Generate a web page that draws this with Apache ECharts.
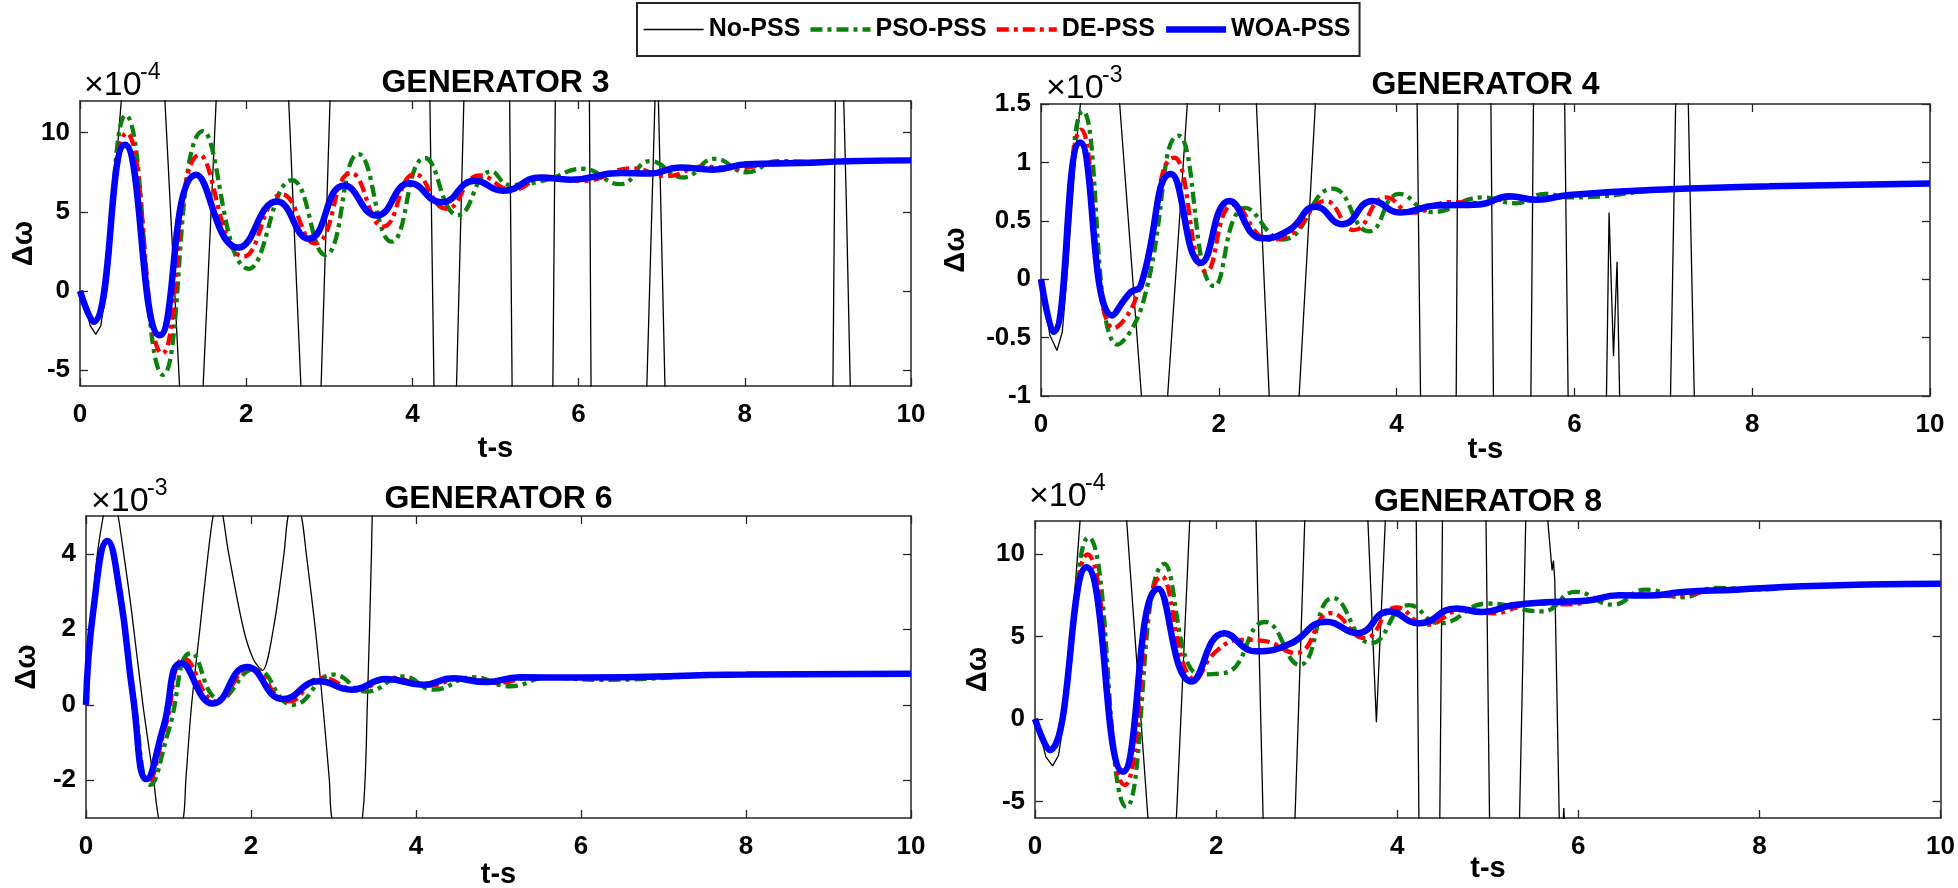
<!DOCTYPE html>
<html><head><meta charset="utf-8">
<script src="https://cdn.jsdelivr.net/npm/echarts@6/dist/echarts.min.js"></script>
<style>html,body{margin:0;padding:0;background:#fff}#c{width:1958px;height:888px}</style>
</head><body><div id="c"></div>
<script>
// ---------- DATA ----------
const seriesNames = ['No-PSS', 'PSO-PSS', 'DE-PSS', 'WOA-PSS'];
const panelTitles = ['GENERATOR 3', 'GENERATOR 4', 'GENERATOR 6', 'GENERATOR 8'];
const panelExponents = ['-4', '-3', '-3', '-4'];
const xTicks = [0, 2, 4, 6, 8, 10];
const g3YTicks = [-5, 0, 5, 10];
const g4YTicks = [-1, -0.5, 0, 0.5, 1, 1.5];
const g6YTicks = [-2, 0, 2, 4];
const g8YTicks = [-5, 0, 5, 10];

// Generator 3 (x1e-4)
const g3TimeNo = [0,0.06,0.12,0.19,0.25,0.3,0.35,0.4,0.45,0.5,0.76,1.02,1.2,1.34,1.48,1.64,2.08,2.51,2.66,2.78,2.9,3.01,3.6,4.21,4.26,4.4,4.53,4.62,4.9,5.17,5.2,5.45,5.69,5.72,5.92,6.13,6.15,6.5,6.82,6.92,6.94,6.96,7.0,7.04,8.0,9.06,9.09,9.14,9.19,9.22,9.27,9.6,10];
const g3No     = [0,-0.7,-2.15,-2.74,-2.2,-0.5,2.5,5.8,9.0,12.2,60,12.2,-6.2,-40,-6.2,12.2,60,12.2,-6.2,-40,-6.2,12.2,60,12.2,-6.2,-40,-6.2,12.2,60,12.2,-6.2,-40,-6.2,12.2,60,12.2,-6.2,-40,-6.2,12.2,20,12.2,3,-6.2,-60,-6.2,12.2,20,12.2,6,-6.2,-60,-80];
const g3TimePso = [0,0.17,0.55,1.0,1.48,2.03,2.55,2.95,3.35,3.75,4.15,4.55,4.95,5.17,5.6,6.05,6.5,6.86,7.26,7.64,8.02,8.4,9.0,10];
const g3Pso     = [0,-2.0,11.1,-5.3,10.1,1.4,7.0,2.28,8.65,3.12,8.4,4.8,7.55,6.7,7.0,7.72,6.75,8.2,7.17,8.35,7.5,8.2,8.15,8.25];
const g3TimeDe = [0,0.16,0.56,0.99,1.44,1.97,2.43,2.83,3.26,3.65,4.03,4.41,4.81,5.2,5.6,6.05,6.65,7.05,7.5,7.9,8.4,9.0,10];
const g3De     = [0,-2.0,9.98,-3.95,8.6,2.17,6.1,3.0,7.45,4.07,7.38,5.19,7.3,6.4,7.2,6.95,7.75,7.25,7.85,7.75,8.1,8.15,8.25];
const g3TimeWoa = [0,0.16,0.54,0.96,1.40,1.905,2.37,2.75,3.18,3.57,3.97,4.35,4.75,5.09,5.54,5.9,6.5,6.86,7.22,7.62,8.02,8.66,9.23,10];
const g3Woa     = [0,-1.94,9.24,-2.8,7.34,2.74,5.65,3.3,6.67,4.77,6.8,5.6,6.96,6.33,7.17,7.03,7.45,7.42,7.8,7.66,8.0,8.08,8.19,8.25];

// Generator 4 (x1e-3)
const g4TimeNo = [0,0.05,0.1,0.18,0.24,0.3,0.36,0.41,0.45,0.66,0.88,1.135,1.28,1.42,1.65,2.03,2.42,2.57,2.74,2.9,3.09,3.66,4.23,4.27,4.47,4.67,4.69,4.88,5.06,5.09,5.3,5.51,5.54,5.72,5.89,5.93,6.15,6.36,6.39,6.44,6.48,6.51,6.8,7.08,7.14,7.21,7.28,7.31,7.35,8.5,10];
const g4No     = [0,-0.25,-0.48,-0.61,-0.45,0.1,0.75,1.25,1.55,6,1.55,-1.05,-5,-1.05,1.55,6,1.55,-1.05,-5,-1.05,1.55,6,1.55,-1.05,-5,-1.05,1.55,6,1.55,-1.05,-5,-1.05,1.55,6,1.55,-1.05,-5,-1.05,0.57,-0.66,0.15,-1.05,-5,-1.05,1.55,3,1.55,0.41,-1.05,-6,-8];
const g4TimePso = [0,0.14,0.47,0.86,1.14,1.55,1.95,2.3,2.72,3.28,3.69,4.03,4.4,4.97,5.34,5.67,5.97,7.07,8.19,10];
const g4Pso     = [0,-0.46,1.44,-0.56,-0.22,1.23,-0.06,0.61,0.34,0.775,0.41,0.73,0.575,0.70,0.65,0.73,0.70,0.77,0.795,0.82];
const g4TimeDe = [0,0.14,0.45,0.82,1.07,1.5,1.86,2.17,2.57,2.8,3.2,3.52,3.88,4.18,4.6,5.0,5.3,5.6,6.0,7.07,8.19,10];
const g4De     = [0,-0.45,1.28,-0.42,-0.16,1.04,0.065,0.64,0.34,0.38,0.67,0.42,0.70,0.57,0.66,0.65,0.70,0.68,0.72,0.77,0.795,0.82];
const g4TimeWoa = [0,0.14,0.44,0.8,1.01,1.12,1.46,1.8,2.12,2.49,2.79,3.09,3.39,3.73,4.04,4.44,4.93,5.27,5.57,5.94,7.07,8.19,10];
const g4Woa     = [0,-0.45,1.17,-0.31,-0.11,-0.06,0.9,0.14,0.67,0.35,0.42,0.62,0.47,0.67,0.57,0.63,0.64,0.71,0.68,0.72,0.77,0.795,0.82];

// Generator 6 (x1e-3)
const g6TimeNo = [0,0.05,0.1,0.15,0.21,0.3,0.39,0.47,0.55,0.69,0.82,0.88,1.03,1.18,1.21,1.28,1.38,1.48,1.54,1.6,1.66,1.73,1.91,2.03,2.14,2.27,2.4,2.45,2.53,2.61,2.67,2.78,2.87,2.95,2.98,3.17,3.35,3.41,3.46,3.47,3.6,10];
const g6No     = [0,1.8,3.2,4.2,5.0,6.0,5.0,3.8,2.52,0,-2,-3,-4.2,-3,-2,0,2,4,5,5.6,5,4,2,1.2,0.91,2,4,5,5.4,5,4,2,0,-2,-3,-4.5,-3,0,4,5,12,30];
const g6TimePso = [0,0.09,0.26,0.41,0.58,0.78,1.0,1.28,1.62,2.05,2.51,3.0,3.4,3.85,4.21,4.69,5.14,5.6,6.2,8.0,10];
const g6Pso     = [0,2.52,4.34,2.97,0.2,-2.12,-0.7,1.37,0.15,0.95,0.0,0.8,0.35,0.75,0.4,0.73,0.49,0.72,0.66,0.80,0.82];
const g6TimeDe = [0,0.09,0.26,0.41,0.57,0.755,0.96,1.2,1.58,1.99,2.45,2.86,3.28,3.7,4.15,4.55,5.0,5.4,6.0,8.0,10];
const g6De     = [0,2.52,4.34,2.97,0.22,-2.04,-0.6,1.21,0.09,0.97,0.09,0.71,0.4,0.71,0.5,0.7,0.58,0.72,0.72,0.80,0.82];
const g6TimeWoa = [0,0.09,0.26,0.41,0.57,0.735,0.94,1.16,1.54,1.95,2.39,2.82,3.22,3.64,4.09,4.45,4.85,5.26,6.0,8.0,10];
const g6Woa     = [0,2.52,4.34,2.97,0.22,-1.97,-0.58,1.1,0.03,1.0,0.15,0.62,0.4,0.68,0.53,0.70,0.60,0.73,0.72,0.80,0.82];

// Generator 8 (x1e-4)
const g8TimeNo = [0,0.06,0.12,0.195,0.26,0.31,0.36,0.41,0.46,0.5,0.76,1.01,1.25,1.4,1.56,1.71,2.08,2.44,2.52,2.7,2.87,2.98,3.33,3.675,3.77,3.87,4.04,4.21,4.24,4.35,4.47,4.5,4.74,4.98,5.02,5.2,5.35,5.42,5.54,5.66,5.71,5.725,5.74,5.79,5.815,5.84,5.86,7.5,10];
const g8No     = [0,-1.0,-2.3,-2.84,-2.2,-0.4,2.5,5.8,9.2,12.2,60,12.2,-6.2,-40,-6.2,12.2,60,12.2,-6.2,-40,-6.2,12.2,40,12.2,-0.2,12.2,40,12.2,-6.2,-40,-6.2,12.2,60,12.2,-6.2,-40,-6.2,12.2,40,12.2,9.0,9.6,8.4,-6.2,-8,-5.4,-8,-60,-80];
const g8TimePso = [0,0.17,0.59,1.01,1.43,1.82,2.1,2.54,2.92,3.29,3.71,4.13,4.47,5.0,5.6,5.97,6.38,6.74,7.15,7.52,8.0,8.5,9.2,10];
const g8Pso     = [0,-1.95,11.0,-5.33,9.4,2.7,2.8,5.88,3.28,7.33,4.6,6.9,5.8,7.0,6.52,7.7,6.93,7.84,7.38,7.94,7.85,8.05,8.15,8.2];
const g8TimeDe = [0,0.16,0.58,0.99,1.4,1.77,2.0,2.3,2.52,2.88,3.27,3.64,3.99,4.32,4.72,5.05,5.5,5.9,6.3,6.65,7.05,7.5,8.47,9.2,10];
const g8De     = [0,-1.9,9.97,-4.0,8.65,2.4,4.1,4.8,4.74,4.0,6.42,4.9,6.77,5.7,6.6,6.4,7.0,6.95,7.4,7.55,7.45,7.8,8.04,8.15,8.2];
const g8TimeWoa = [0,0.16,0.57,0.97,1.36,1.73,2.09,2.44,2.81,3.22,3.56,3.91,4.24,4.65,4.94,5.27,5.71,6.08,6.45,6.78,7.15,7.74,8.47,9.2,10];
const g8Woa     = [0,-1.88,9.2,-3.2,7.9,2.27,5.2,4.1,4.54,5.9,5.2,6.52,5.8,6.7,6.48,6.89,7.09,7.17,7.5,7.48,7.7,7.84,8.04,8.15,8.2];

// ---------- LAYOUT / STYLE ----------
const FONT = '"Liberation Sans", Arial, Helvetica, sans-serif';
const AX = '#262626';
const zip = (t, v) => t.map((x, i) => [x, v[i]]);

const panels = [
  { grid:{left:80, top:101, width:831, height:285}, yMin:-6, yMax:12, yTicks:g3YTicks,
    data:[zip(g3TimeNo,g3No), zip(g3TimePso,g3Pso), zip(g3TimeDe,g3De), zip(g3TimeWoa,g3Woa)], noSmooth:false,
    titleY:83, expX:84, expY:86, yLabX:24, xLabY:449 },
  { grid:{left:1041, top:104, width:889, height:292}, yMin:-1, yMax:1.5, yTicks:g4YTicks,
    data:[zip(g4TimeNo,g4No), zip(g4TimePso,g4Pso), zip(g4TimeDe,g4De), zip(g4TimeWoa,g4Woa)], noSmooth:false,
    titleY:85, expX:1046, expY:89, yLabX:956, xLabY:450 },
  { grid:{left:86, top:516, width:825, height:302}, yMin:-3, yMax:5, yTicks:g6YTicks,
    data:[zip(g6TimeNo,g6No), zip(g6TimePso,g6Pso), zip(g6TimeDe,g6De), zip(g6TimeWoa,g6Woa)], noSmooth:0.3,
    titleY:499, expX:91, expY:502, yLabX:27, xLabY:875 },
  { grid:{left:1035, top:521, width:906, height:297}, yMin:-6, yMax:12, yTicks:g8YTicks,
    data:[zip(g8TimeNo,g8No), zip(g8TimePso,g8Pso), zip(g8TimeDe,g8De), zip(g8TimeWoa,g8Woa)], noSmooth:false,
    titleY:502, expX:1029, expY:497, yLabX:978, xLabY:869 }
];

const styles = [
  { color:'#000000', width:1.3, type:'solid' },
  { color:'#0b800b', width:4.3, type:[12,5,4,5] },
  { color:'#ff0000', width:4.3, type:[12,5,4,5] },
  { color:'#0000ff', width:6.5, type:'solid' }
];

const grid = [], xAxis = [], yAxis = [], series = [], graphic = [];
const axLine = { show:true, onZero:false, lineStyle:{ color:AX, width:1.5 } };
const axTick = (vals) => ({ show:true, inside:true, length:8, lineStyle:{ color:AX, width:1.3 }, ...(vals ? {customValues:vals} : {}) });
const lab = { color:'#000', fontSize:26, fontWeight:'bold', fontFamily:FONT };

panels.forEach((p, i) => {
  grid.push({ ...p.grid, containLabel:false });
  xAxis.push({ gridIndex:i, type:'value', min:0, max:10, interval:2, position:'bottom',
    axisLine:axLine, axisTick:axTick(), splitLine:{show:false},
    axisLabel:{ ...lab, margin:16 } });
  xAxis.push({ gridIndex:i, type:'value', min:0, max:10, interval:2, position:'top',
    axisLine:axLine, axisTick:axTick(), splitLine:{show:false}, axisLabel:{show:false} });
  yAxis.push({ gridIndex:i, type:'value', min:p.yMin, max:p.yMax, position:'left',
    axisLine:axLine, axisTick:axTick(p.yTicks), splitLine:{show:false},
    axisLabel:{ ...lab, margin:10, customValues:p.yTicks } });
  yAxis.push({ gridIndex:i, type:'value', min:p.yMin, max:p.yMax, position:'right',
    axisLine:axLine, axisTick:axTick(p.yTicks), splitLine:{show:false},
    axisLabel:{ show:false, customValues:p.yTicks } });

  p.data.forEach((d, k) => {
    const s = styles[k];
    series.push({
      name: seriesNames[k], type:'line', xAxisIndex:2*i, yAxisIndex:2*i, data:d,
      showSymbol:false, symbol:'none', clip:true, z: 2 + k,
      smooth: k === 0 ? p.noSmooth : 0.5,
      lineStyle:{ color:s.color, width:s.width, type:s.type, cap:'butt' },
      itemStyle:{ color:s.color }, emphasis:{disabled:true}
    });
  });

  const cx = p.grid.left + p.grid.width / 2;
  const cy = p.grid.top + p.grid.height / 2;
  graphic.push({ type:'text', x:cx, y:p.titleY, style:{ text:panelTitles[i], fill:'#000',
    font:`bold 32px ${FONT}`, align:'center', verticalAlign:'middle' } });
  graphic.push({ type:'text', x:p.expX, y:p.expY, style:{ text:'×10', fill:'#000',
    font:`34px ${FONT}`, align:'left', verticalAlign:'middle' } });
  graphic.push({ type:'text', x:p.expX + 56, y:p.expY - 13, style:{ text:panelExponents[i], fill:'#000',
    font:`23px ${FONT}`, align:'left', verticalAlign:'middle' } });
  graphic.push({ type:'text', x:p.yLabX, y:cy, rotation:Math.PI/2, style:{ text:'Δω', fill:'#000',
    font:`bold 29px ${FONT}`, align:'center', verticalAlign:'middle' } });
  graphic.push({ type:'text', x:cx, y:p.xLabY, style:{ text:'t-s', fill:'#000',
    font:`bold 29px ${FONT}`, align:'center', verticalAlign:'middle' } });
});

const chart = echarts.init(document.getElementById('c'), null, { renderer:'canvas' });
chart.setOption({
  backgroundColor:'#ffffff',
  animation:false,
  legend:{ data:seriesNames, left:637, top:3, orient:'horizontal', selectedMode:false,
    itemWidth:60, itemHeight:14, itemGap:8, padding:[14,9,14,6],
    itemStyle:{ opacity:0 }, lineStyle:{ width:'inherit' },
    backgroundColor:'#fff', borderColor:AX, borderWidth:2,
    textStyle:{ color:'#000', fontSize:25, fontWeight:'bold', fontFamily:FONT } },
  grid, xAxis, yAxis, series, graphic
});
</script></body></html>
